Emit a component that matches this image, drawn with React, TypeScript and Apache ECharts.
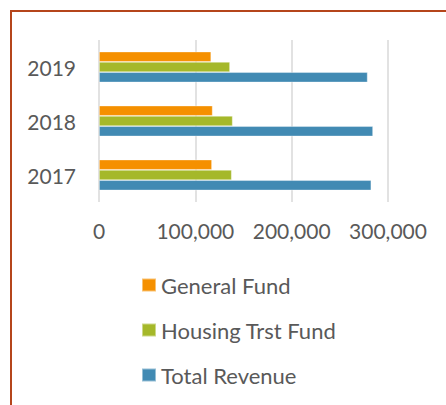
import React, { useEffect, useRef } from "react";
import * as echarts from "echarts";

const categories = ["2017", "2018", "2019"];
const generalFund = [117300, 118000, 116500];
const housingTrustFund = [137800, 138800, 136000];
const totalRevenue = [282700, 284500, 278900];
const xTicks = [0, 100000, 200000, 300000];

const FONT = "Lato, 'Open Sans', sans-serif";
const TEXT = "#595959";

export default function App() {
  const ref = useRef<HTMLDivElement>(null);
  useEffect(() => {
    if (!ref.current) return;
    const chart = echarts.init(ref.current, undefined, { renderer: "svg" });
    const mk = (name: string, data: number[], color: string) => ({
      name,
      type: "bar",
      data,
      barWidth: 10.3,
      barGap: "0%",
      itemStyle: { color, borderColor: "rgba(255,255,255,0.45)", borderWidth: 0.8 },
    });
    chart.setOption({
      animation: false,
      grid: { left: 99, top: 40, width: 289, height: 162, containLabel: false },
      xAxis: {
        type: "value",
        min: xTicks[0],
        max: xTicks[xTicks.length - 1],
        interval: 100000,
        axisLine: { show: false },
        axisTick: { show: false },
        splitLine: { show: true, lineStyle: { color: "#D9D9D9", width: 1.5 } },
        axisLabel: {
          margin: 18,
          fontFamily: FONT,
          fontSize: 21,
          color: TEXT,
          formatter: (v: number) => v.toLocaleString("en-US"),
        },
      },
      yAxis: {
        type: "category",
        data: categories,
        axisLine: { show: false },
        axisTick: { show: false },
        axisLabel: { margin: 23, fontFamily: FONT, fontSize: 21, color: TEXT },
      },
      legend: {
        orient: "vertical",
        left: 136,
        top: 268,
        itemWidth: 14,
        itemHeight: 13,
        itemGap: 21,
        icon: "rect",
        textStyle: { fontFamily: FONT, fontSize: 22, color: TEXT, lineHeight: 24 },
        data: ["General Fund", "Housing Trst Fund", "Total Revenue"],
      },
      series: [
        mk("General Fund", generalFund, "#F59000"),
        mk("Housing Trst Fund", housingTrustFund, "#A5B82A"),
        mk("Total Revenue", totalRevenue, "#418AB3"),
      ],
    });
    return () => chart.dispose();
  }, []);
  return (
    <div style={{ position: "fixed", left: 0, top: 0, width: 446, height: 405, overflow: "hidden", background: "#fff" }}>
      <div
        style={{
          position: "absolute",
          left: 10,
          top: 10,
          width: 500,
          height: 500,
          border: "2px solid #B5451B",
          boxSizing: "border-box",
        }}
      />
      <div ref={ref} style={{ position: "absolute", left: 0, top: 0, width: 446, height: 405 }} />
    </div>
  );
}
